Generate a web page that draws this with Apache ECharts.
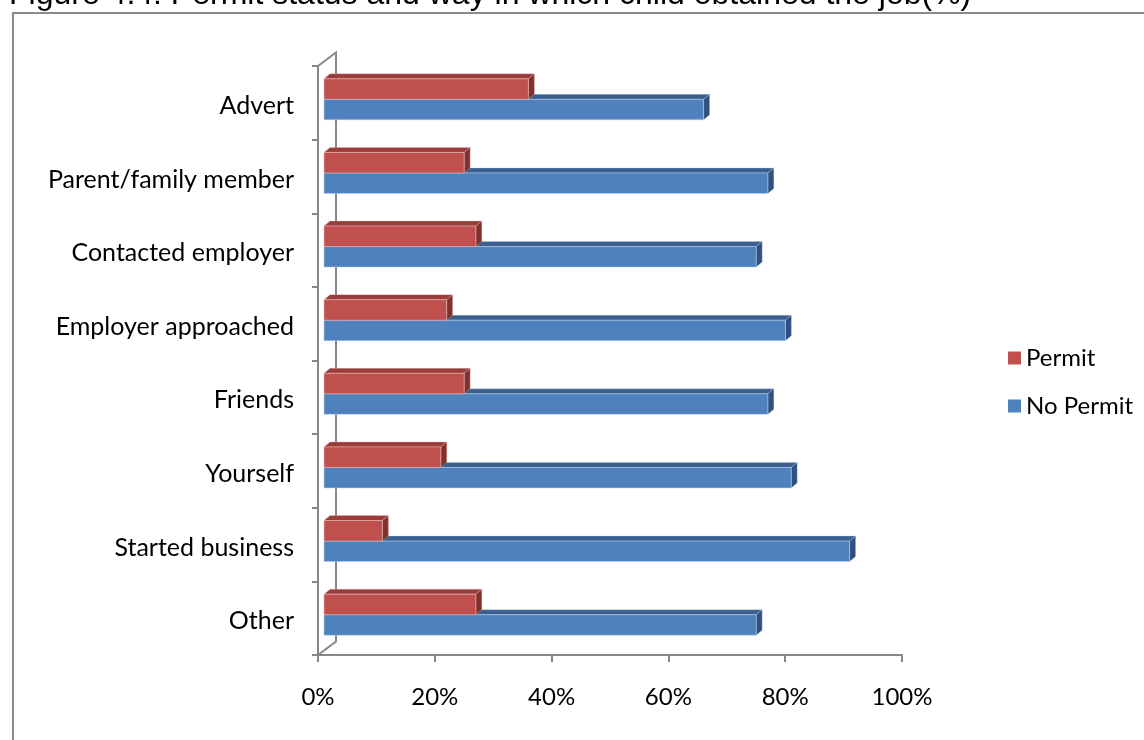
<!DOCTYPE html>
<html>
<head>
<meta charset="utf-8">
<script src="https://cdn.jsdelivr.net/npm/echarts@6/dist/echarts.min.js"></script>
<style>
  html, body { margin: 0; padding: 0; background: #ffffff; }
  #chart { width: 1144px; height: 740px; }
</style>
</head>
<body>
<div id="chart"></div>
<script>
// Ways in which the child obtained the job
const categories = [
  'Advert',
  'Parent/family member',
  'Contacted employer',
  'Employer approached',
  'Friends',
  'Yourself',
  'Started business',
  'Other'
];
// Share of children with a work permit (%)
const permit = [35, 24, 26, 21, 24, 20, 10, 26];
// Share of children without a work permit (%)
const noPermit = [65, 76, 74, 79, 76, 80, 90, 74];
// Value axis tick labels
const tickLabels = ['0%', '20%', '40%', '60%', '80%', '100%'];

const titleText = 'Figure 4.4: Permit status and way in which child obtained the job(%)';

const AXIS_GRAY = '#878787';
const LABEL_FONT = 'Lato';

// pseudo-3D projection offsets (pixels)
const BAR_FRONT = { x: 6, y: -3.5 };  // bar front plane relative to the axis plane
const BAR_DEPTH = { x: 6, y: -5 };    // thickness of each bar in depth
const WALL = { x: 18, y: -13.5 };     // back wall relative to the axis plane

const palette = {
  permit:   { front: '#C0504D', top: '#9A3C39', side: '#83302D', edge: 'rgba(235,190,188,0.55)' },
  noPermit: { front: '#4F81BD', top: '#3A5F8E', side: '#2F5080', edge: 'rgba(190,210,235,0.55)' }
};

function barRenderer(slot, colors) {
  return function (params, api) {
    const v = api.value(0);
    const c = api.value(1);
    const p0 = api.coord([0, c]);
    const p1 = api.coord([v, c]);
    const band = api.size([0, 1])[1];
    const h = band * 0.279;
    const yTop = p0[1] + BAR_FRONT.y + (slot === 0 ? -h : 0);
    const yBot = yTop + h;
    const xL = p0[0] + BAR_FRONT.x;
    const xR = p1[0] + BAR_FRONT.x;
    const dx = BAR_DEPTH.x, dy = BAR_DEPTH.y;
    return {
      type: 'group',
      children: [
        {
          type: 'polygon',
          shape: { points: [[xL, yTop], [xL + dx, yTop + dy], [xR + dx, yTop + dy], [xR, yTop]] },
          style: { fill: colors.top, stroke: colors.edge, lineWidth: 0.6 }
        },
        {
          type: 'polygon',
          shape: { points: [[xR, yTop], [xR + dx, yTop + dy], [xR + dx, yBot + dy], [xR, yBot]] },
          style: { fill: colors.side, stroke: colors.edge, lineWidth: 0.6 }
        },
        {
          type: 'rect',
          shape: { x: xL, y: yTop, width: xR - xL, height: h },
          style: { fill: colors.front, stroke: colors.edge, lineWidth: 1 }
        }
      ]
    };
  };
}

const chart = echarts.init(document.getElementById('chart'), null, { renderer: 'canvas' });

chart.setOption({
  backgroundColor: '#ffffff',
  animation: false,
  graphic: [
    {
      type: 'rect',
      shape: { x: 13, y: 13, width: 1200, height: 800 },
      style: { fill: 'none', stroke: '#8a8a8a', lineWidth: 2 },
      z: 0
    },
    {
      type: 'text',
      x: 9,
      y: -5,
      style: {
        text: titleText,
        font: '32px "Liberation Sans", Arial, sans-serif',
        fill: '#000000',
        verticalAlign: 'middle'
      }
    }
  ],
  legend: {
    data: ['Permit', 'No Permit'],
    orient: 'vertical',
    left: 1003,
    top: 341,
    icon: 'rect',
    itemWidth: 13,
    itemHeight: 13,
    itemGap: 24,
    textStyle: { fontFamily: LABEL_FONT, fontSize: 24, color: '#000000', lineHeight: 20 }
  },
  grid: { left: 318, top: 66, width: 584, height: 589, containLabel: false },
  xAxis: {
    type: 'value',
    min: 0,
    max: 100,
    interval: 20,
    axisLine: { show: true, lineStyle: { color: AXIS_GRAY, width: 2 } },
    axisTick: { show: true, length: 7, lineStyle: { color: AXIS_GRAY, width: 2 } },
    splitLine: { show: false },
    axisLabel: {
      margin: 30,
      fontFamily: LABEL_FONT,
      fontSize: 24,
      lineHeight: 24,
      color: '#000000',
      formatter: function (value) { return tickLabels[Math.round(value / 20)]; }
    }
  },
  yAxis: {
    type: 'category',
    inverse: true,
    data: categories,
    axisLine: { show: true, lineStyle: { color: AXIS_GRAY, width: 2 } },
    axisTick: { show: true, length: 6, lineStyle: { color: AXIS_GRAY, width: 2 } },
    splitLine: { show: false },
    axisLabel: {
      margin: 24,
      color: '#000000',
      formatter: function (value) { return '{c|' + value + '}'; },
      rich: {
        c: {
          fontFamily: LABEL_FONT,
          fontSize: 25,
          color: '#000000',
          padding: [6, 0, 0, 0]
        }
      }
    }
  },
  series: [
    {
      name: 'wall',
      type: 'custom',
      silent: true,
      data: [[0, 0]],
      encode: { x: 0, y: 1 },
      z: 1,
      renderItem: function (params) {
        const cs = params.coordSys;
        return {
          type: 'polyline',
          shape: {
            points: [
              [cs.x, cs.y],
              [cs.x + WALL.x, cs.y + WALL.y],
              [cs.x + WALL.x, cs.y + cs.height + WALL.y],
              [cs.x, cs.y + cs.height]
            ]
          },
          style: { fill: 'none', stroke: AXIS_GRAY, lineWidth: 2 }
        };
      }
    },
    {
      name: 'No Permit',
      type: 'custom',
      itemStyle: { color: palette.noPermit.front },
      data: noPermit.map(function (v, i) { return [v, i]; }),
      encode: { x: 0, y: 1 },
      z: 2,
      renderItem: barRenderer(1, palette.noPermit)
    },
    {
      name: 'Permit',
      type: 'custom',
      itemStyle: { color: palette.permit.front },
      data: permit.map(function (v, i) { return [v, i]; }),
      encode: { x: 0, y: 1 },
      z: 3,
      renderItem: barRenderer(0, palette.permit)
    }
  ]
});
</script>
</body>
</html>
